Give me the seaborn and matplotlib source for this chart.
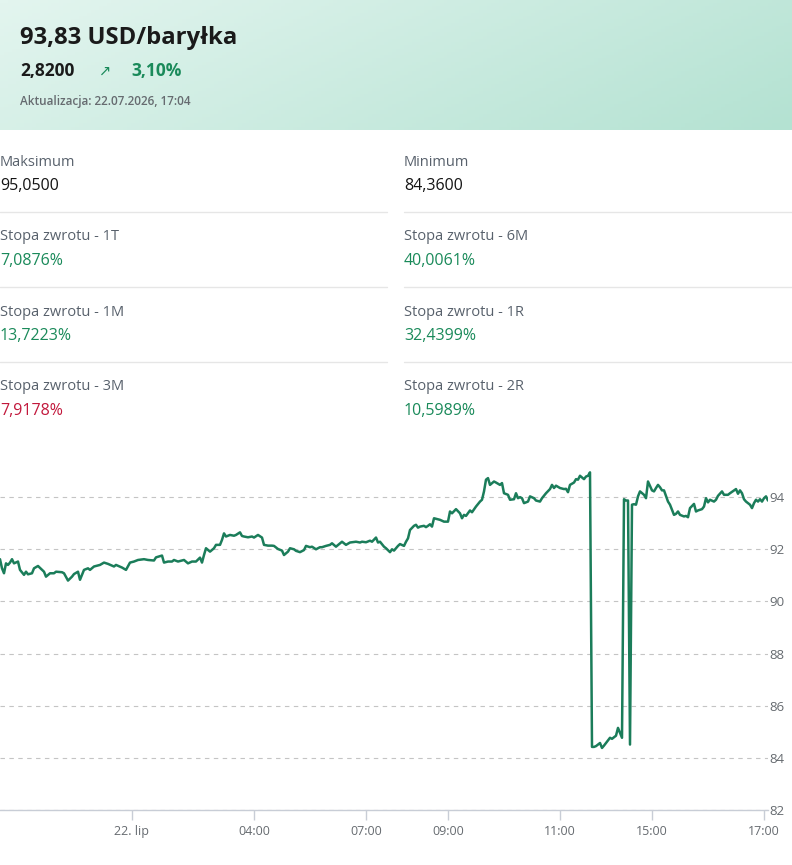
import numpy as np
import pandas as pd
import seaborn as sns
import matplotlib.pyplot as plt
from matplotlib.lines import Line2D
from matplotlib.colors import LinearSegmentedColormap

# === Dane ===
sample_no = [
    0, 1, 2, 3, 4, 5, 6, 7, 9, 10, 12, 13, 14, 16, 17, 19, 21, 22, 23, 25,
    27, 28, 31, 32, 34, 36, 37, 39, 40, 41, 42, 44, 45, 47, 48, 50, 52, 54, 57, 58,
    61, 63, 65, 67, 69, 72, 74, 77, 78, 81, 82, 84, 86, 87, 89, 91, 92, 94, 96, 98,
    100, 101, 102, 103, 105, 107, 108, 110, 111, 112, 113, 115, 117, 118, 120, 121, 122, 124, 126, 127,
    129, 131, 132, 134, 136, 137, 139, 141, 142, 144, 145, 147, 148, 150, 152, 153, 155, 156, 158, 160,
    161, 163, 165, 166, 168, 170, 171, 173, 175, 176, 178, 180, 181, 183, 185, 186, 188, 189, 190, 192,
    193, 195, 196, 197, 199, 200, 202, 203, 204, 205, 207, 208, 209, 210, 212, 213, 214, 215, 216, 217,
    219, 220, 222, 224, 225, 226, 228, 230, 231, 232, 233, 235, 236, 238, 240, 241, 242, 243, 244, 245,
    247, 248, 250, 251, 252, 254, 255, 257, 258, 259, 260, 261, 262, 264, 265, 267, 268, 270, 271, 273,
    275, 276, 277, 278, 280, 282, 283, 284, 285, 287, 288, 289, 290, 292, 293, 294, 295, 296, 297, 298,
    300, 301, 302, 303, 305, 306, 308, 309, 310, 311, 312, 313, 314, 315, 316, 317, 318, 319, 320, 322,
    323, 324, 326, 327, 328, 329, 330, 331, 332, 334, 335, 337, 338, 339, 340, 342, 343, 344, 345, 347,
    348, 349, 351, 352, 353, 354, 355, 357, 358, 359, 361, 362, 364, 365, 367, 368, 369, 370, 371, 372,
    373, 375, 376, 377, 378, 379, 380, 381, 382, 383, 384,
]
price = [
    91.62, 91.27, 91.08, 91.46, 91.40, 91.49, 91.62, 91.46, 91.53, 91.21, 91.02, 91.14, 91.04, 91.08, 91.27, 91.36, 91.21, 91.14, 90.95, 91.08,
    91.08, 91.14, 91.12, 91.08, 90.80, 90.95, 91.05, 91.14, 90.83, 91.02, 91.21, 91.27, 91.21, 91.34, 91.36, 91.40, 91.49, 91.44, 91.34, 91.40,
    91.30, 91.21, 91.49, 91.53, 91.59, 91.62, 91.59, 91.57, 91.69, 91.76, 91.49, 91.53, 91.53, 91.59, 91.53, 91.57, 91.59, 91.46, 91.53, 91.53,
    91.68, 91.49, 91.78, 92.04, 91.91, 92.04, 92.17, 92.17, 92.36, 92.61, 92.49, 92.55, 92.52, 92.55, 92.65, 92.51, 92.49, 92.46, 92.49, 92.45,
    92.55, 92.45, 92.17, 92.14, 92.14, 92.13, 92.01, 91.95, 91.78, 91.91, 92.04, 92.00, 91.94, 91.89, 91.97, 92.13, 92.08, 92.10, 92.00, 92.08,
    92.08, 92.13, 92.17, 92.23, 92.10, 92.23, 92.29, 92.17, 92.26, 92.27, 92.29, 92.26, 92.29, 92.27, 92.33, 92.29, 92.45, 92.26, 92.29, 92.10,
    92.04, 91.89, 92.00, 91.95, 92.13, 92.20, 92.13, 92.29, 92.42, 92.74, 92.90, 92.94, 92.83, 92.87, 92.90, 92.85, 92.90, 92.96, 92.87, 93.19,
    93.15, 93.13, 93.06, 93.06, 93.45, 93.38, 93.54, 93.38, 93.19, 93.32, 93.28, 93.49, 93.42, 93.64, 93.83, 93.90, 94.22, 94.67, 94.73, 94.47,
    94.60, 94.56, 94.47, 94.54, 94.15, 94.09, 93.90, 93.92, 94.15, 93.96, 94.00, 93.96, 93.77, 93.83, 94.03, 93.96, 93.87, 93.83, 93.96, 94.15,
    94.31, 94.47, 94.35, 94.44, 94.35, 94.31, 94.32, 94.19, 94.47, 94.56, 94.69, 94.67, 94.82, 94.69, 94.79, 94.82, 94.95, 84.42, 84.42, 84.45,
    84.57, 84.38, 84.47, 84.57, 84.77, 84.73, 84.85, 85.15, 84.96, 84.77, 93.92, 93.87, 93.87, 84.51, 93.71, 93.73, 93.71, 94.03, 94.22, 94.09,
    93.96, 94.60, 94.26, 94.22, 94.35, 94.47, 94.38, 94.26, 94.26, 93.83, 93.71, 93.32, 93.36, 93.45, 93.32, 93.26, 93.28, 93.23, 93.58, 93.74,
    93.45, 93.49, 93.54, 93.64, 93.96, 93.80, 93.90, 93.83, 93.90, 94.05, 94.22, 94.09, 94.09, 94.15, 94.26, 94.31, 94.13, 94.26, 94.15, 93.92,
    93.83, 93.71, 93.58, 93.77, 93.90, 93.83, 93.92, 93.83, 93.96, 94.03, 93.87,
]
xtick_pos = [66, 127, 183, 224, 280, 326, 382]
xtick_labels = ["22. lip", "04:00", "07:00", "09:00", "11:00", "15:00", "17:00"]
ytick_vals = [82, 84, 86, 88, 90, 92, 94]

stat_labels = ["Maksimum", "Minimum",
               "Stopa zwrotu - 1T", "Stopa zwrotu - 6M",
               "Stopa zwrotu - 1M", "Stopa zwrotu - 1R",
               "Stopa zwrotu - 3M", "Stopa zwrotu - 2R"]
stat_values = ["95,0500", "84,3600",
               "7,0876%", "40,0061%",
               "13,7223%", "32,4399%",
               "7,9178%", "10,5989%"]
stat_colors = ["#141414", "#141414",
               "#1a8a5a", "#1a8a5a",
               "#1a8a5a", "#1a8a5a",
               "#c2183c", "#1a8a5a"]

# === Ustawienia ===
W, H = 792, 865
GREEN = "#1a8a5a"
LINE = "#1b7d5a"
GRAY_TXT = "#666b70"

sns.set_theme(style="white")
plt.rcParams['font.family'] = ['Open Sans', 'DejaVu Sans']

fig = plt.figure(figsize=(W / 100, H / 100), dpi=100)
fig.patch.set_facecolor("white")


def fy(y):
    return 1 - y / H


def fx(x):
    return x / W


# === Naglowek z gradientem ===
hdr = fig.add_axes([0, fy(130), 1, 130 / H])
gx, gy = np.meshgrid(np.linspace(0, 1, 200), np.linspace(0, 1, 40))
grad = 0.75 * gx + 0.25 * gy
cmap = LinearSegmentedColormap.from_list("hdr", ["#e3f5ef", "#b4e2d2"])
hdr.imshow(grad, cmap=cmap, aspect="auto", extent=[0, 1, 0, 1])
hdr.axis("off")

fig.text(fx(20), fy(38), "93,83 USD/baryłka", fontsize=17.2, fontweight="bold",
         color="#1a1a1a", va="center", ha="left")
fig.text(fx(20), fy(71), "2,8200", fontsize=12.5, fontweight="bold",
         color="#1a1a1a", va="center", ha="left")
fig.text(fx(99), fy(71), "↗", fontsize=10.5, color=GREEN, va="center", ha="left",
         family=["DejaVu Sans"])
fig.text(fx(131), fy(71), "3,10%", fontsize=12.5, fontweight="bold",
         color=GREEN, va="center", ha="left")
fig.text(fx(20), fy(102), "Aktualizacja: 22.07.2026, 17:04", fontsize=8.5,
         fontweight="semibold", color=GRAY_TXT, va="center", ha="left")

# === Statystyki ===
for i, (lab, val, col) in enumerate(zip(stat_labels, stat_values, stat_colors)):
    row, c = divmod(i, 2)
    x0 = 0 if c == 0 else 404
    fig.text(fx(x0), fy(162 + 75 * row), lab, fontsize=10.5, color="#58616c",
             va="center", ha="left")
    fig.text(fx(x0), fy(186 + 75 * row), val, fontsize=11.5, color=col,
             va="center", ha="left")
    if row < 3:
        x1 = 387 if c == 0 else W
        fig.add_artist(Line2D([fx(x0), fx(x1)], [fy(212 + 75 * row)] * 2,
                              transform=fig.transFigure, color="#e6e6e6", lw=1))

# === Wykres ===
df = pd.DataFrame({"sample": sample_no, "price": price})
ax = fig.add_axes([0, fy(810), 768 / W, (810 - 445) / H])
sns.lineplot(data=df, x="sample", y="price", estimator=None, sort=False,
             color=LINE, lw=1.8, ax=ax)

ax.set_xlim(0, 384)
ax.set_ylim(82, 96)
ax.set_xlabel("")
ax.set_ylabel("")
ax.set_facecolor("none")

ax.yaxis.tick_right()
ax.set_yticks(ytick_vals)
ax.set_yticklabels([str(v) for v in ytick_vals])
ax.tick_params(axis="y", length=0, pad=1, labelsize=9.5, labelcolor=GRAY_TXT)
ax.grid(axis="y", linestyle=(0, (4, 4)), color="#c4c4c4", lw=0.8)
ax.grid(axis="x", visible=False)

ax.set_xticks(xtick_pos)
ax.set_xticklabels(xtick_labels)
ax.tick_params(axis="x", direction="out", length=7, width=1, color="#c8cdd6",
               pad=4, labelsize=9, labelcolor=GRAY_TXT, bottom=True)

for s in ["top", "left", "right"]:
    ax.spines[s].set_visible(False)
ax.spines["bottom"].set_color("#c8cdd6")
ax.spines["bottom"].set_linewidth(1)

fig.savefig("out.png", dpi=100)
